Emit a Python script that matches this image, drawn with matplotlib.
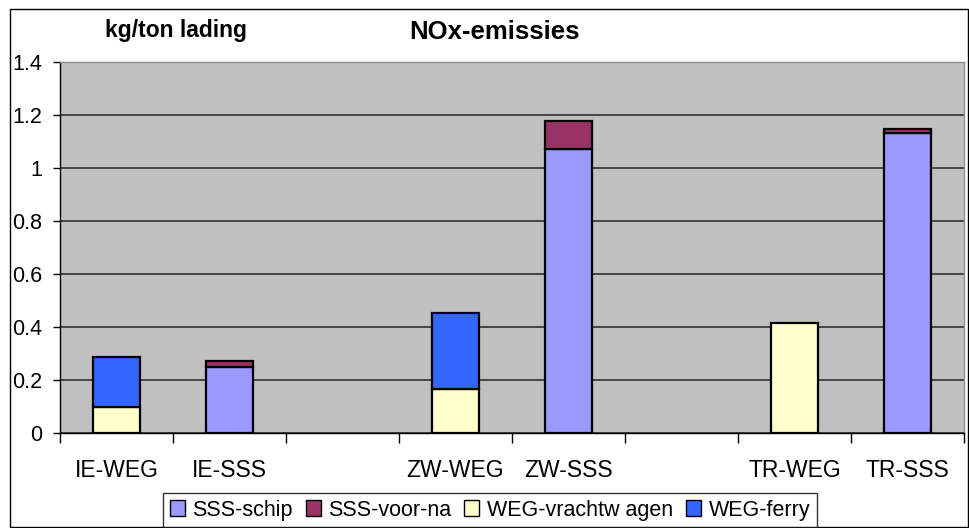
import numpy as np
import matplotlib
matplotlib.use("Agg")
import matplotlib.pyplot as plt
from matplotlib.patches import Rectangle

plt.rcParams["font.family"] = ["Liberation Sans", "DejaVu Sans"]

OUTPUT_FILE = "out.png"

CATEGORIES = ["IE-WEG", "IE-SSS", "", "ZW-WEG", "ZW-SSS", "", "TR-WEG", "TR-SSS"]

SERIES_NAMES = ["SSS-schip", "SSS-voor-na", "WEG-vrachtw agen", "WEG-ferry"]
SSS_SCHIP = [0.0, 0.249, 0.0, 0.0, 1.072, 0.0, 0.0, 1.132]
SSS_VOOR_NA = [0.0, 0.023, 0.0, 0.0, 0.106, 0.0, 0.0, 0.015]
WEG_VRACHTWAGEN = [0.098, 0.0, 0.0, 0.166, 0.0, 0.0, 0.415, 0.0]
WEG_FERRY = [0.189, 0.0, 0.0, 0.287, 0.0, 0.0, 0.0, 0.0]

Y_TICKS = [0, 0.2, 0.4, 0.6, 0.8, 1, 1.2, 1.4]
Y_TICK_LABELS = ["0", "0.2", "0.4", "0.6", "0.8", "1", "1.2", "1.4"]

COLORS = ["#9999FF", "#993366", "#FFFFCC", "#3366FF"]


def plot_chart():
    fig = plt.figure(figsize=(9.7, 5.28), dpi=100)
    ax = fig.add_axes([60 / 970, 1 - 432.7 / 528, 904 / 970, 370.7 / 528])

    # outer chart border
    fig.patches.append(Rectangle((10 / 970, 1 / 528), 958 / 970, 518 / 528,
                                 transform=fig.transFigure, fill=False,
                                 edgecolor="black", linewidth=1.0))

    ax.set_facecolor("#C0C0C0")
    x = np.arange(len(CATEGORIES))
    series = [SSS_SCHIP, SSS_VOOR_NA, WEG_VRACHTWAGEN, WEG_FERRY]
    bottom = np.zeros(len(CATEGORIES))
    handles = []
    for name, values, color in zip(SERIES_NAMES, series, COLORS):
        values = np.array(values)
        mask = values > 0
        ax.bar(x[mask], values[mask], width=0.42, bottom=bottom[mask],
               color=color, edgecolor="black", linewidth=1.6, zorder=3)
        handles.append(Rectangle((0, 0), 1, 1, facecolor=color,
                                 edgecolor="black", linewidth=1.0))
        bottom = bottom + values

    ax.set_xlim(-0.5, len(CATEGORIES) - 0.5)
    ax.set_ylim(0, 1.4)

    ax.set_yticks(Y_TICKS)
    ax.set_yticklabels(Y_TICK_LABELS, fontsize=15.5)
    ax.yaxis.grid(True, color="#303030", linewidth=1.2, zorder=1)
    ax.set_axisbelow(True)

    ax.set_xticks(np.arange(len(CATEGORIES) + 1) - 0.5)
    ax.set_xticklabels([])
    ax.set_xticks(x, minor=True)
    ax.set_xticklabels(CATEGORIES, minor=True, fontsize=16.5)
    ax.tick_params(axis="x", which="major", direction="out", length=7,
                   width=1, color="black")
    ax.tick_params(axis="x", which="minor", length=0, pad=19)
    ax.tick_params(axis="y", direction="out", length=5, width=1, pad=8)

    for side in ["top", "right"]:
        ax.spines[side].set_color("#909090")
        ax.spines[side].set_linewidth(1.0)
    for side in ["left", "bottom"]:
        ax.spines[side].set_color("black")
        ax.spines[side].set_linewidth(1.0)

    fig.text(176 / 970, 1 - 30 / 528, "kg/ton lading", fontsize=16.5,
             fontweight="bold", ha="center", va="center")
    fig.text(495 / 970, 1 - 32 / 528, "NOx-emissies", fontsize=18.5,
             fontweight="bold", ha="center", va="center")

    leg = fig.legend(handles, SERIES_NAMES, loc="lower center",
                     bbox_to_anchor=(490 / 970, 1 / 528), ncol=4,
                     fontsize=15.5, frameon=True, fancybox=False,
                     handlelength=0.7, handleheight=0.7, handletextpad=0.35,
                     columnspacing=0.6, borderpad=0.3, borderaxespad=0)
    leg.get_frame().set_edgecolor("black")
    leg.get_frame().set_linewidth(1.0)

    fig.savefig(OUTPUT_FILE, dpi=100)


def main():
    plot_chart()


if __name__ == "__main__":
    main()
